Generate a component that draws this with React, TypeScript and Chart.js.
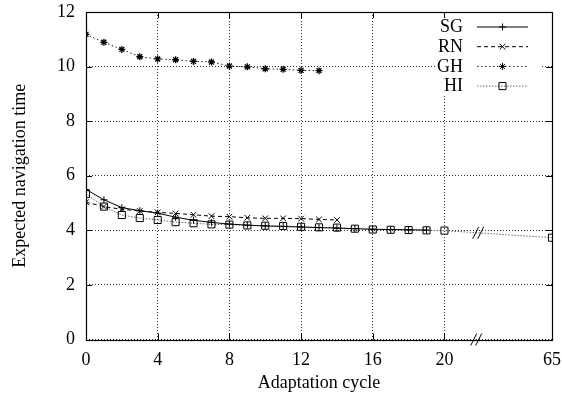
import React, { useEffect, useRef } from "react";
import { Chart, registerables } from "chart.js";

Chart.register(...registerables);

// ---- data ----
const SG_X = [0, 1, 2, 3, 4, 5, 6, 7, 8, 9, 10, 11, 12, 13, 14, 15, 16, 17, 18, 19];
const SG_Y = [5.50, 5.12, 4.83, 4.72, 4.63, 4.48, 4.37, 4.29, 4.23, 4.19, 4.16, 4.14, 4.12, 4.10, 4.08, 4.06, 4.04, 4.03, 4.02, 4.01];

const RN_X = [0, 1, 2, 3, 4, 5, 6, 7, 8, 9, 10, 11, 12, 13, 14];
const RN_Y = [5.03, 4.87, 4.77, 4.71, 4.66, 4.62, 4.57, 4.52, 4.50, 4.46, 4.44, 4.44, 4.43, 4.40, 4.38];

const GH_X = [0, 1, 2, 3, 4, 5, 6, 7, 8, 9, 10, 11, 12, 13];
const GH_Y = [11.18, 10.89, 10.63, 10.36, 10.28, 10.25, 10.19, 10.17, 10.02, 9.99, 9.92, 9.90, 9.86, 9.85];

const HI_X = [0, 1, 2, 3, 4, 5, 6, 7, 8, 9, 10, 11, 12, 13, 14, 15, 16, 17, 18, 19, 20, 65];
const HI_Y = [5.33, 4.87, 4.56, 4.45, 4.38, 4.30, 4.26, 4.22, 4.21, 4.18, 4.17, 4.16, 4.13, 4.11, 4.10, 4.06, 4.03, 4.02, 4.01, 4.00, 3.99, 3.73];

const X_TICKS = [0, 4, 8, 12, 16, 20, 65];
const Y_TICKS = [0, 2, 4, 6, 8, 10, 12];
const BREAK_FROM = 20; // last cycle before the axis break
const BREAK_SPAN = 6; // axis units used to show the jump to the last cycle
const BREAK_MARK = 1.8; // break mark, axis units after BREAK_FROM

const axisPos = (c: number) => (c <= BREAK_FROM ? c : BREAK_FROM + BREAK_SPAN);
const toPoints = (xs: number[], ys: number[]) => xs.map((x, i) => ({ x: axisPos(x), y: ys[i] }));

const FONT = "'Liberation Serif', 'Times New Roman', serif";
const FS = 18;

function drawMarker(ctx: CanvasRenderingContext2D, style: string, x: number, y: number, r: number) {
  ctx.beginPath();
  if (style === "cross" || style === "star") {
    ctx.moveTo(x - r, y);
    ctx.lineTo(x + r, y);
    ctx.moveTo(x, y - r);
    ctx.lineTo(x, y + r);
  }
  if (style === "crossRot" || style === "star") {
    const d = r * Math.SQRT1_2;
    ctx.moveTo(x - d, y - d);
    ctx.lineTo(x + d, y + d);
    ctx.moveTo(x - d, y + d);
    ctx.lineTo(x + d, y - d);
  }
  if (style === "rect") {
    const s = r * Math.SQRT1_2;
    ctx.rect(x - s, y - s, 2 * s, 2 * s);
  }
  ctx.stroke();
}

const framePlugin = {
  id: "frame",
  beforeDatasetsDraw(chart: any) {
    const ctx = chart.ctx;
    ctx.save();
    ctx.fillStyle = "#fff";
    ctx.fillRect(437, 16, 104, 80);
    ctx.restore();
  },
  afterDatasetsDraw(chart: any) {
    const ctx = chart.ctx;
    const { left, right, top, bottom } = chart.chartArea;
    const xs = chart.scales.x;
    const ys = chart.scales.y;
    ctx.save();
    ctx.strokeStyle = "#000";
    ctx.lineWidth = 1.2;
    ctx.setLineDash([]);
    ctx.strokeRect(Math.round(left) + 0.5, Math.round(top) + 0.5, Math.round(right - left), Math.round(bottom - top));
    // inward ticks
    ctx.lineWidth = 1;
    const T = 6;
    X_TICKS.forEach((v) => {
      const px = Math.round(xs.getPixelForValue(axisPos(v))) + 0.5;
      ctx.beginPath();
      ctx.moveTo(px, bottom);
      ctx.lineTo(px, bottom - T);
      ctx.moveTo(px, top);
      ctx.lineTo(px, top + T);
      ctx.stroke();
    });
    Y_TICKS.forEach((v) => {
      const py = Math.round(ys.getPixelForValue(v)) + 0.5;
      ctx.beginPath();
      ctx.moveTo(left, py);
      ctx.lineTo(left + T, py);
      ctx.moveTo(right, py);
      ctx.lineTo(right - T, py);
      ctx.stroke();
    });
    // break marks
    const bx = xs.getPixelForValue(BREAK_FROM + BREAK_MARK);
    const n = HI_X.length;
    const y0 = HI_Y[n - 2];
    const y1 = HI_Y[n - 1];
    const by = ys.getPixelForValue(y0 + (y1 - y0) * (BREAK_MARK / BREAK_SPAN));
    const slash = (cx: number, cy: number) => {
      ctx.beginPath();
      ctx.moveTo(cx - 6, cy + 6);
      ctx.lineTo(cx, cy - 6);
      ctx.moveTo(cx - 1, cy + 6);
      ctx.lineTo(cx + 5, cy - 6);
      ctx.stroke();
    };
    slash(bx, bottom);
    slash(bx + 2, by);

    // legend
    ctx.font = `${FS}px ${FONT}`;
    ctx.textAlign = "right";
    ctx.textBaseline = "middle";
    chart.data.datasets.forEach((ds: any, i: number) => {
      const ry = 26.5 + i * 19.7;
      ctx.fillStyle = "#000";
      ctx.fillText(ds.label, 463, ry + 1);
      ctx.strokeStyle = ds.borderColor;
      ctx.lineWidth = ds.borderWidth;
      ctx.setLineDash(ds.borderDash || []);
      ctx.beginPath();
      ctx.moveTo(477, ry + 0.5);
      ctx.lineTo(528, ry + 0.5);
      ctx.stroke();
      ctx.setLineDash([]);
      ctx.lineWidth = 1;
      ctx.strokeStyle = ds.pointBorderColor;
      drawMarker(ctx, ds.pointStyle, 502.5, ry + 0.5, ds.pointRadius);
    });
    ctx.restore();
  },
};

export default function App() {
  const ref = useRef<HTMLCanvasElement | null>(null);
  useEffect(() => {
    if (!ref.current) return;
    const chart = new Chart(ref.current, {
      type: "line",
      data: {
        datasets: [
          {
            label: "SG",
            data: toPoints(SG_X, SG_Y),
            borderColor: "#000",
            borderWidth: 1,
            pointStyle: "cross",
            pointRadius: 3.5,
            pointBorderColor: "#000",
            pointBorderWidth: 1,
            pointBackgroundColor: "rgba(0,0,0,0)",
            tension: 0,
          },
          {
            label: "RN",
            data: toPoints(RN_X, RN_Y),
            borderColor: "#000",
            borderWidth: 1,
            borderDash: [4, 3],
            pointStyle: "crossRot",
            pointRadius: 4,
            pointBorderColor: "#000",
            pointBorderWidth: 1,
            pointBackgroundColor: "rgba(0,0,0,0)",
            tension: 0,
          },
          {
            label: "GH",
            data: toPoints(GH_X, GH_Y),
            borderColor: "#222",
            borderWidth: 1,
            borderDash: [1.5, 2.5],
            pointStyle: "star",
            pointRadius: 3.5,
            pointBorderColor: "#000",
            pointBorderWidth: 1.3,
            pointBackgroundColor: "rgba(0,0,0,0)",
            tension: 0,
          },
          {
            label: "HI",
            data: toPoints(HI_X, HI_Y),
            borderColor: "#666",
            borderWidth: 1,
            borderDash: [1.5, 1.5],
            pointStyle: "rect",
            pointRadius: 5,
            pointBorderColor: "#000",
            pointBorderWidth: 1,
            pointBackgroundColor: "rgba(0,0,0,0)",
            tension: 0,
          },
        ],
      },
      options: {
        responsive: false,
        animation: false,
        events: [],
        layout: { padding: { top: 12, right: 10, left: 0, bottom: 0 } },
        plugins: { legend: { display: false }, tooltip: { enabled: false } },
        scales: {
          x: {
            type: "linear",
            min: 0,
            max: BREAK_FROM + BREAK_SPAN,
            afterBuildTicks: (s: any) => {
              s.ticks = X_TICKS.map((v) => ({ value: axisPos(v) }));
            },
            afterFit: (s: any) => {
              s.height = 61.5;
              s.paddingLeft = 0;
              s.paddingRight = 0;
            },
            ticks: {
              autoSkip: false,
              maxRotation: 0,
              padding: 10,
              color: "#000",
              font: { family: FONT, size: FS },
              callback: (val: any) => {
                const idx = X_TICKS.findIndex((v) => axisPos(v) === val);
                return idx >= 0 ? String(X_TICKS[idx]) : "";
              },
            },
            grid: { color: "#333", lineWidth: 1, drawTicks: false },
            border: { display: false, dash: [1, 2] },
            title: {
              display: true,
              text: "Adaptation cycle",
              color: "#000",
              font: { family: FONT, size: FS },
              padding: { top: 0, bottom: 7 },
            },
          },
          y: {
            min: 0,
            max: 12,
            afterBuildTicks: (s: any) => {
              s.ticks = Y_TICKS.map((v) => ({ value: v }));
            },
            afterFit: (s: any) => {
              s.width = 86;
              s.paddingTop = 0;
              s.paddingBottom = 0;
            },
            ticks: {
              padding: 11,
              color: "#000",
              font: { family: FONT, size: FS },
            },
            grid: { color: "#333", lineWidth: 1, drawTicks: false },
            border: { display: false, dash: [1, 2] },
            title: {
              display: true,
              text: "Expected navigation time",
              color: "#000",
              font: { family: FONT, size: FS },
              padding: { top: 9, bottom: 0 },
            },
          },
        },
      },
      plugins: [framePlugin],
    } as any);
    return () => chart.destroy();
  }, []);
  return (
    <div style={{ position: "fixed", left: 0, top: 0, width: 562, height: 401, background: "#fff" }}>
      <canvas ref={ref} width={562} height={401} style={{ display: "block", width: 562, height: 401 }} />
    </div>
  );
}
